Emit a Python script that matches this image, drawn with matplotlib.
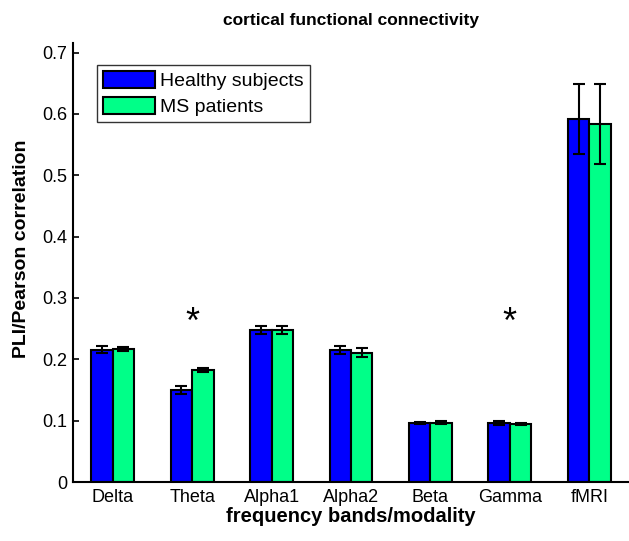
import matplotlib.pyplot as plt
import numpy as np

plt.rcParams['font.family'] = ['Liberation Sans', 'DejaVu Sans']

bands = ['Delta', 'Theta', 'Alpha1', 'Alpha2', 'Beta', 'Gamma', 'fMRI']
healthy = [0.216, 0.150, 0.248, 0.215, 0.096, 0.096, 0.592]
healthy_err = [0.005, 0.007, 0.007, 0.006, 0.002, 0.003, 0.057]
ms = [0.217, 0.183, 0.248, 0.211, 0.097, 0.095, 0.584]
ms_err = [0.003, 0.003, 0.006, 0.007, 0.003, 0.002, 0.065]
signif = ['Theta', 'Gamma']
star_y = 0.258

fig = plt.figure(figsize=(6.29, 5.41), dpi=100)
ax = fig.add_axes([0.116, 0.109, 0.884, 0.812])

x = np.arange(1, len(bands) + 1)
w = 0.27
ax.bar(x - w / 2, healthy, w, color='#0000ff', edgecolor='black', linewidth=1.5,
       label='Healthy subjects')
ax.bar(x + w / 2, ms, w, color='#00ff88', edgecolor='black', linewidth=1.5,
       label='MS patients')
ax.errorbar(x - w / 2, healthy, yerr=healthy_err, fmt='none', ecolor='black',
            elinewidth=1.5, capsize=4, capthick=1.5)
ax.errorbar(x + w / 2, ms, yerr=ms_err, fmt='none', ecolor='black',
            elinewidth=1.5, capsize=4, capthick=1.5)

for b in signif:
    ax.text(bands.index(b) + 1, star_y, '*', ha='center', va='center', fontsize=26)

ax.set_xlim(0.5, 7.5)
ax.set_ylim(0, 0.716)
ax.set_xticks(x)
ax.set_xticklabels(bands, fontsize=13)
ax.set_yticks(np.arange(0, 0.71, 0.1))
ax.set_yticklabels(['0', '0.1', '0.2', '0.3', '0.4', '0.5', '0.6', '0.7'], fontsize=13)
ax.tick_params(axis='x', length=0, pad=5)
ax.tick_params(axis='y', direction='in', length=4, width=1.2, pad=4)
ax.spines['top'].set_visible(False)
ax.spines['right'].set_visible(False)
ax.spines['left'].set_linewidth(1.5)
ax.spines['bottom'].set_linewidth(1.5)

ax.set_title('cortical functional connectivity', fontsize=12.5, fontweight='bold', pad=13)
ax.set_xlabel('frequency bands/modality', fontsize=14.5, fontweight='bold', labelpad=1)
ax.set_ylabel('PLI/Pearson correlation', fontsize=14, fontweight='bold')
ax.yaxis.set_label_coords(-0.078, 0.53)

leg = ax.legend(loc='upper left', bbox_to_anchor=(0.043, 0.95), fontsize=14,
                fancybox=False, edgecolor='black', handlelength=2.7, handleheight=1.0,
                borderpad=0.3, labelspacing=0.35, handletextpad=0.25, borderaxespad=0)
leg.get_frame().set_linewidth(1.0)

fig.savefig('out.png', dpi=100)
